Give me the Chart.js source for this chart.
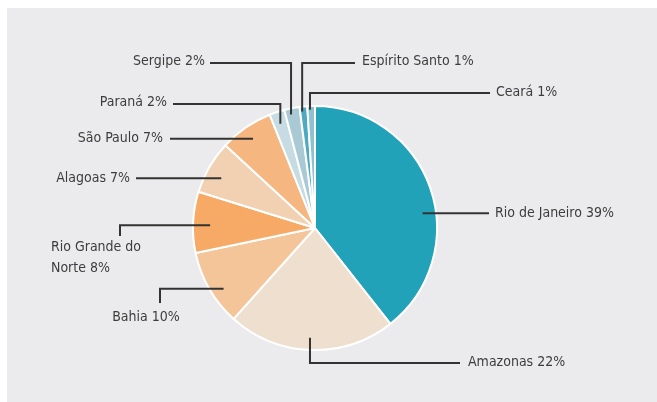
<!DOCTYPE html>
<html>
<head>
<meta charset="utf-8">
<script src="https://cdn.jsdelivr.net/npm/chart.js@4"></script>
<style>
  html, body { margin: 0; padding: 0; background: #ffffff; }
  #wrap { position: relative; width: 657px; height: 402px; }
  #panel { position: absolute; left: 7px; top: 8px; width: 650px; height: 394px; background: #ebebed; }
  canvas { position: absolute; left: 0; top: 0; }
</style>
</head>
<body>
<div id="wrap">
  <div id="panel"></div>
  <canvas id="c" width="657" height="402"></canvas>
</div>
<script>
// ---- data ----
const categories = ["Rio de Janeiro", "Amazonas", "Bahia", "Rio Grande do\nNorte", "Alagoas", "São Paulo", "Paraná", "Sergipe", "Espírito Santo", "Ceará"];
const shares = [39, 22, 10, 8, 7, 7, 2, 2, 1, 1];
const sliceColors = ["#22a2b9", "#efdfcf", "#f5c59a", "#f7a966", "#f2d1b3", "#f5b680", "#c6dce2", "#a9cad4", "#4eaac1", "#8fc2d0"];

// ---- label layout (positions only) ----
const labelLayout = [
  { f: 0.58, rf: 0.89, path: 'h', endX: 489, tx: 495, ty: null, align: 'left' },
  { f: 0.51, rf: 0.90, path: 'vh', elbowY: 363, endX: 460, tx: 468, ty: 362, align: 'left' },
  { f: 0.40, rf: 0.90, path: 'hv', elbowX: 160, endY: 303, tx: 146, ty: 317, align: 'center' },
  { f: 0.46, rf: 0.86, path: 'hv', elbowX: 120, endY: 236, tx: 51, ty: 247, align: 'left', lineGap: 21 },
  { f: 0.42, rf: 0.87, path: 'h', endX: 136, tx: 130, ty: null, align: 'right' },
  { f: 0.49, rf: 0.89, path: 'h', endX: 170, tx: 163, ty: null, align: 'right' },
  { f: 0.47, rf: 0.90, path: 'vh', elbowY: 104, endX: 173, tx: 167, ty: 102, align: 'right' },
  { f: 0.36, rf: 0.95, path: 'vh', elbowY: 63, endX: 210, tx: 205, ty: 61, align: 'right' },
  { f: 0.27, rf: 0.96, path: 'vh', elbowY: 63, endX: 355, tx: 362, ty: 61, align: 'left' },
  { f: 0.33, rf: 0.97, path: 'vh', elbowY: 93, endX: 490, tx: 496, ty: 92, align: 'left' }
];

const FONT = '14px "Liberation Sans Narrow", "DejaVu Sans Condensed", "Liberation Sans", sans-serif';

const leaderPlugin = {
  id: 'leaders',
  afterDatasetsDraw(chart) {
    const ctx = chart.ctx;
    const meta = chart.getDatasetMeta(0);
    ctx.save();
    ctx.strokeStyle = '#333333';
    ctx.lineWidth = 2;
    ctx.fillStyle = '#3d3d3d';
    ctx.font = FONT;
    ctx.textBaseline = 'middle';
    meta.data.forEach((arc, i) => {
      const p = arc.getProps(['x', 'y', 'startAngle', 'endAngle', 'outerRadius'], true);
      const L = labelLayout[i];
      const a = p.startAngle + L.f * (p.endAngle - p.startAngle);
      const ax = p.x + Math.cos(a) * p.outerRadius * L.rf;
      const ay = p.y + Math.sin(a) * p.outerRadius * L.rf;
      ctx.beginPath();
      ctx.moveTo(ax, ay);
      let ty = L.ty;
      if (L.path === 'h') {
        ctx.lineTo(L.endX, ay);
        ty = ay;
      } else if (L.path === 'vh') {
        ctx.lineTo(ax, L.elbowY);
        ctx.lineTo(L.endX, L.elbowY);
      } else {
        ctx.lineTo(L.elbowX, ay);
        ctx.lineTo(L.elbowX, L.endY);
      }
      ctx.stroke();
      ctx.textAlign = L.align;
      const lines = (categories[i] + ' ' + shares[i] + '%').split('\n');
      lines.forEach((ln, k) => {
        ctx.fillText(ln, L.tx, ty + k * (L.lineGap || 0));
      });
    });
    ctx.restore();
  }
};

new Chart(document.getElementById('c'), {
  type: 'pie',
  data: {
    labels: categories,
    datasets: [{
      data: shares,
      backgroundColor: sliceColors,
      borderColor: '#ffffff',
      borderWidth: 2
    }]
  },
  options: {
    responsive: false,
    animation: false,
    events: [],
    layout: { padding: { left: 100, right: 127, top: 105, bottom: 51 } },
    plugins: { legend: { display: false }, tooltip: { enabled: false } }
  },
  plugins: [leaderPlugin]
});
</script>
</body>
</html>
